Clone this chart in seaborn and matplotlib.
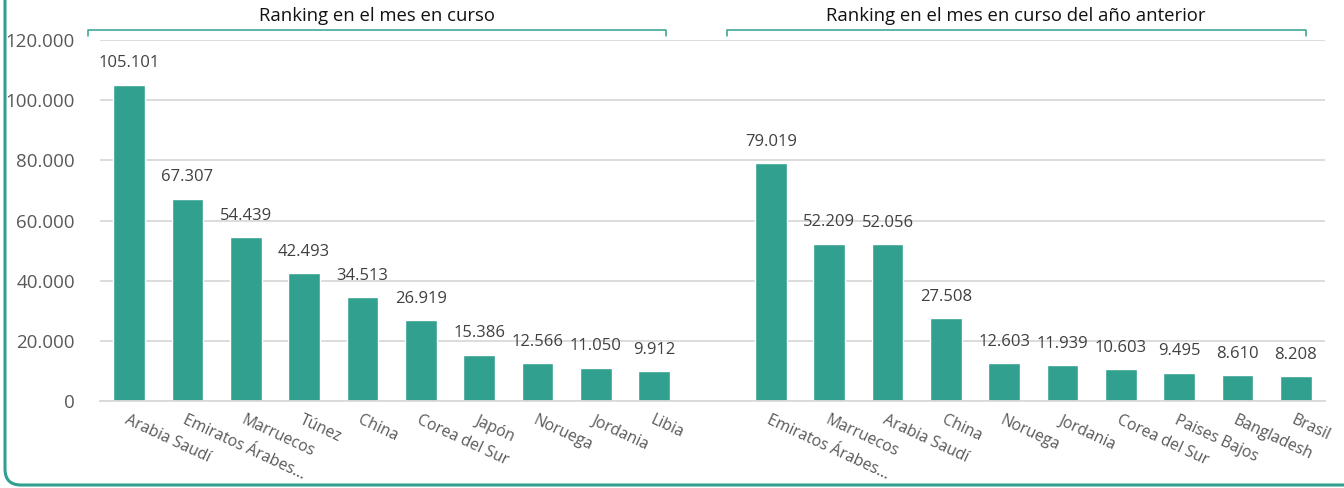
import seaborn as sns
import pandas as pd
import matplotlib.pyplot as plt
from matplotlib.patches import FancyBboxPatch
from matplotlib.transforms import IdentityTransform, blended_transform_factory
from matplotlib.ticker import FuncFormatter, MultipleLocator

# Ranking en el mes en curso
paises_actual = ['Arabia Saudí', 'Emiratos Árabes...', 'Marruecos', 'Túnez', 'China',
                 'Corea del Sur', 'Japón', 'Noruega', 'Jordania', 'Libia']
valores_actual = [105101, 67307, 54439, 42493, 34513, 26919, 15386, 12566, 11050, 9912]

# Ranking en el mes en curso del año anterior
paises_anterior = ['Emiratos Árabes...', 'Marruecos', 'Arabia Saudí', 'China', 'Noruega',
                   'Jordania', 'Corea del Sur', 'Paises Bajos', 'Bangladesh', 'Brasil']
valores_anterior = [79019, 52209, 52056, 27508, 12603, 11939, 10603, 9495, 8610, 8208]

titulos = ['Ranking en el mes en curso', 'Ranking en el mes en curso del año anterior']

verde = '#32A08F'
gris_txt = '#595959'

etiquetas = paises_actual + [''] + paises_anterior
valores = valores_actual + [0] + valores_anterior
claves = [f'c{i}' for i in range(len(etiquetas))]
df = pd.DataFrame({'clave': claves, 'valor': valores})

sns.set_style('white')
plt.rcParams['font.family'] = ['Open Sans', 'DejaVu Sans']

fig = plt.figure(figsize=(13.44, 4.88), dpi=100)
ax = fig.add_axes([0.0744, 0.178, 0.9115, 0.740])

sns.barplot(data=df, x='clave', y='valor', order=claves, color=verde,
            width=0.54, saturation=1, ax=ax)

ax.set_ylim(0, 120000)
ax.set_xlim(-0.5, len(claves) - 0.5)
ax.yaxis.set_major_locator(MultipleLocator(20000))
ax.yaxis.set_major_formatter(FuncFormatter(lambda v, p: f'{int(v):,}'.replace(',', '.')))
ax.grid(axis='y', color='#D9D9D9', linewidth=1.3)
ax.set_axisbelow(True)
for s in ['top', 'right', 'left']:
    ax.spines[s].set_visible(False)
ax.spines['bottom'].set_color('#D9D9D9')
ax.spines['bottom'].set_linewidth(1.3)
ax.set_xlabel('')
ax.set_ylabel('')
ax.tick_params(axis='y', length=0, labelsize=13.5, labelcolor=gris_txt, pad=18)

ax.set_xticks(range(len(claves)))
ax.set_xticklabels(etiquetas, rotation=-25, ha='left', rotation_mode='anchor',
                   fontsize=11.3, color=gris_txt)
ax.tick_params(axis='x', length=0, pad=8)
ax.set_xticks([i - 0.5 for i in range(len(claves) + 1)], minor=True)
ax.tick_params(axis='x', which='minor', length=6, color='#D9D9D9', width=1.3)

for i, v in enumerate(valores):
    if v > 0:
        ax.text(i, v + 4500, f'{v:,}'.replace(',', '.'), ha='center', va='bottom',
                fontsize=12, color='#404040')

# corchetes con titulos
tr = blended_transform_factory(ax.transData, fig.transFigure)
for (x0, x1), t in zip([(-0.71, 9.21), (10.24, 20.17)], titulos):
    ax.plot([x0, x0, x1, x1], [0.926, 0.938, 0.938, 0.926], color=verde,
            linewidth=1.1, transform=tr, clip_on=False)
    ax.text((x0 + x1) / 2, 0.948, t, ha='center', va='bottom', fontsize=13.3,
            color='#111111', transform=tr)

# marco verde redondeado
marco = FancyBboxPatch((5, 3), 1600, 800, boxstyle='round,pad=0,rounding_size=16',
                       transform=IdentityTransform(), facecolor='none',
                       edgecolor=verde, linewidth=2.2)
fig.patches.append(marco)

fig.savefig('out.png', dpi=100)
